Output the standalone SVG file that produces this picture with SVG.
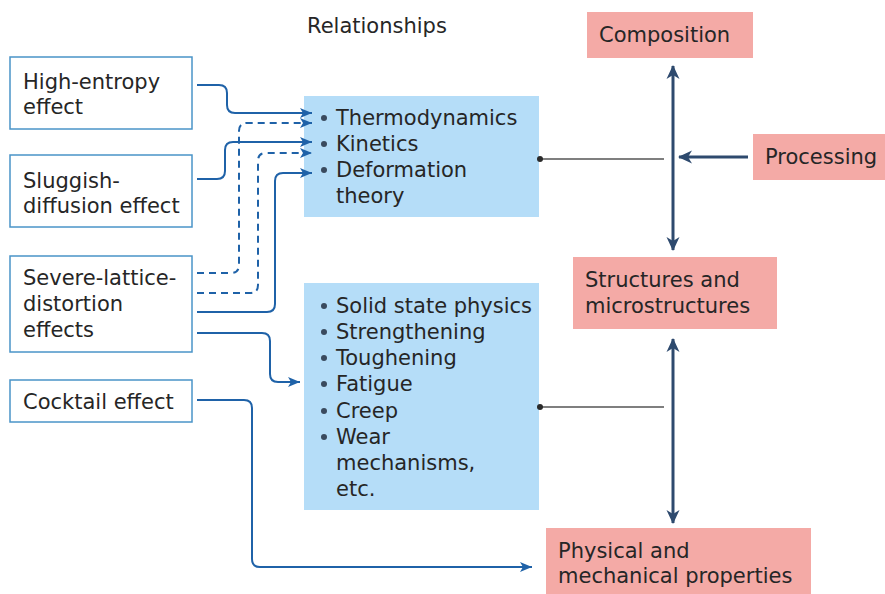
<svg xmlns="http://www.w3.org/2000/svg" width="885" height="594" viewBox="0 0 885 594">
<defs>
<style>
text{font-family:"DejaVu Sans","Liberation Sans",sans-serif;font-size:21px;fill:#262626}
.src rect{fill:#fff;stroke:#4a94c8;stroke-width:1.5}
.rel rect{fill:#b5ddf8}
.out rect{fill:#f4aaa6}
.c{fill:none;stroke:#1f62a8;stroke-width:2}
.d{stroke-dasharray:7 5}
.nv{fill:none;stroke:#2e4a6e;stroke-width:3}
.gl{stroke:#555;stroke-width:1.5}
.dot{fill:#2a2a2a}
.b{fill:#3a4a5e}
</style>
<marker id="ab" markerUnits="userSpaceOnUse" markerWidth="12" markerHeight="12" viewBox="0 0 12 12" refX="12" refY="6" orient="auto">
<path d="M0,1 L12,6 L0,11 L3,6 z" fill="#1f62a8"/>
</marker>
<marker id="an" markerUnits="userSpaceOnUse" markerWidth="14" markerHeight="16" viewBox="0 0 14 16" refX="13" refY="8" orient="auto-start-reverse">
<path d="M0,1.5 L14,8 L0,14.5 L4,8 z" fill="#2e4a6e"/>
</marker>
</defs>

<text x="307" y="33">Relationships</text>

<g id="high-entropy" class="src">
<rect x="10" y="57" width="182" height="72"/>
<text x="23" y="89">High-entropy</text>
<text x="23" y="114">effect</text>
</g>
<g id="sluggish" class="src">
<rect x="10" y="155" width="182" height="72"/>
<text x="23" y="188">Sluggish-</text>
<text x="23" y="213">diffusion effect</text>
</g>
<g id="severe" class="src">
<rect x="10" y="256" width="182" height="96"/>
<text x="23" y="285">Severe-lattice-</text>
<text x="23" y="311">distortion</text>
<text x="23" y="337">effects</text>
</g>
<g id="cocktail" class="src">
<rect x="10" y="380" width="182" height="42"/>
<text x="23" y="409">Cocktail effect</text>
</g>

<g id="relationships-1" class="rel">
<rect x="304" y="96" width="235" height="121"/>
<circle class="b" cx="324" cy="118" r="3"/><text x="336" y="125">Thermodynamics</text>
<circle class="b" cx="324" cy="144" r="3"/><text x="336" y="151">Kinetics</text>
<circle class="b" cx="324" cy="170" r="3"/><text x="336" y="177">Deformation</text>
<text x="336" y="203">theory</text>
</g>
<g id="relationships-2" class="rel">
<rect x="304" y="283" width="235" height="227"/>
<circle class="b" cx="324" cy="306" r="3"/><text x="336" y="313">Solid state physics</text>
<circle class="b" cx="324" cy="332" r="3"/><text x="336" y="339">Strengthening</text>
<circle class="b" cx="324" cy="358" r="3"/><text x="336" y="365">Toughening</text>
<circle class="b" cx="324" cy="384" r="3"/><text x="336" y="391">Fatigue</text>
<circle class="b" cx="324" cy="411" r="3"/><text x="336" y="418">Creep</text>
<circle class="b" cx="324" cy="437" r="3"/><text x="336" y="444">Wear</text>
<text x="336" y="470">mechanisms,</text>
<text x="336" y="496">etc.</text>
</g>

<g id="composition" class="out">
<rect x="587" y="12" width="166" height="46"/>
<text x="599" y="42">Composition</text>
</g>
<g id="processing" class="out">
<rect x="753" y="134" width="132" height="46"/>
<text x="765" y="164">Processing</text>
</g>
<g id="structures" class="out">
<rect x="573" y="257" width="204" height="72"/>
<text x="585" y="287">Structures and</text>
<text x="585" y="313">microstructures</text>
</g>
<g id="properties" class="out">
<rect x="546" y="528" width="265" height="66"/>
<text x="558" y="558">Physical and</text>
<text x="558" y="583">mechanical properties</text>
</g>

<g id="connectors">
<path class="c" d="M197,85 H219 Q227,85 227,93 V105 Q227,113 235,113 H312" marker-end="url(#ab)"/>
<path class="c d" d="M197,273 H231 Q239,273 239,265 V131 Q239,123 247,123 H312" marker-end="url(#ab)"/>
<path class="c" d="M197,179 H217 Q225,179 225,171 V150 Q225,142 233,142 H312" marker-end="url(#ab)"/>
<path class="c d" d="M197,293 H250 Q258,293 258,285 V161 Q258,153 266,153 H312" marker-end="url(#ab)"/>
<path class="c" d="M197,312 H267 Q275,312 275,304 V181 Q275,173 283,173 H312" marker-end="url(#ab)"/>
<path class="c" d="M197,333 H262 Q270,333 270,341 V374 Q270,382 278,382 H300" marker-end="url(#ab)"/>
<path class="c" d="M197,400 H244 Q252,400 252,408 V559 Q252,567 260,567 H532" marker-end="url(#ab)"/>
<line class="gl" x1="540" y1="159" x2="664" y2="159"/>
<circle class="dot" cx="540" cy="159" r="3"/>
<line class="gl" x1="540" y1="407" x2="664" y2="407"/>
<circle class="dot" cx="540" cy="407" r="3"/>
<line class="nv" x1="673" y1="66" x2="673" y2="250" marker-start="url(#an)" marker-end="url(#an)"/>
<line class="nv" x1="748" y1="157" x2="679" y2="157" marker-end="url(#an)"/>
<line class="nv" x1="673" y1="339" x2="673" y2="523" marker-start="url(#an)" marker-end="url(#an)"/>
</g>
</svg>
